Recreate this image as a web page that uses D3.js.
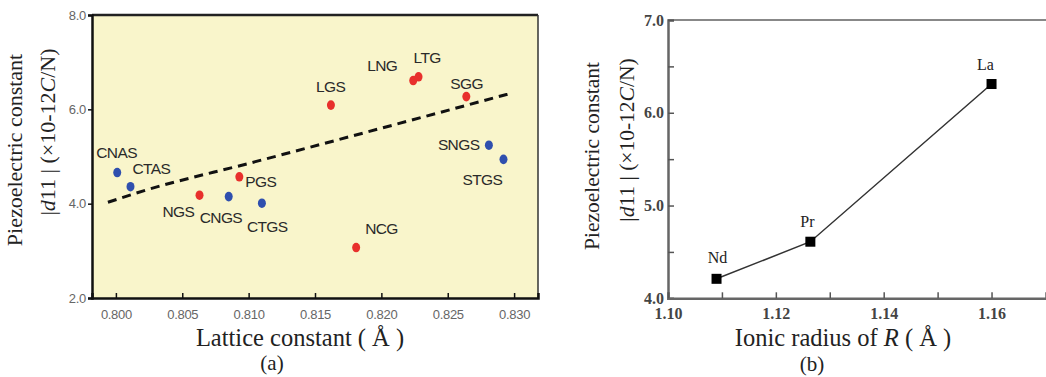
<!DOCTYPE html>
<html>
<head>
<meta charset="utf-8">
<script src="https://cdn.jsdelivr.net/npm/d3@7"></script>
<style>
  body { margin: 0; background: #fff; }
  svg { display: block; }
  .tickA text { font-family: "Liberation Sans", Arial, sans-serif; font-size: 13px; fill: #666; letter-spacing: -0.3px; }
  .tickB text { font-family: "Liberation Serif", "Times New Roman", serif; font-size: 16px; font-weight: bold; fill: #444; }
  .title { font-family: "Liberation Serif", "Times New Roman", serif; fill: #222; }
</style>
</head>
<body>
<script>
// ---- panel (a): lattice constant vs d11 ----
var names   = ["CNAS", "CTAS", "PGS", "NGS", "CNGS", "CTGS", "NCG", "LGS", "LNG", "LTG", "SGG", "SNGS", "STGS"];
var lattice = [0.8001, 0.8011, 0.8093, 0.8063, 0.8085, 0.8110, 0.8181, 0.8162, 0.8224, 0.8228, 0.8264, 0.8281, 0.8292];
var d11a    = [4.66, 4.36, 4.57, 4.18, 4.15, 4.01, 3.07, 6.09, 6.61, 6.69, 6.27, 5.24, 4.94];
var group   = ["b", "b", "r", "r", "b", "b", "r", "r", "r", "r", "r", "b", "b"];
// dashed trend
var trendX  = [0.7994, 0.8023, 0.8101, 0.8200, 0.8295];
var trendY  = [4.03, 4.29, 4.86, 5.60, 6.32];
var ticksA_y = [2.0, 4.0, 6.0, 8.0];
var ticksA_x = [0.800, 0.805, 0.810, 0.815, 0.820, 0.825, 0.830];

// ---- panel (b): ionic radius vs d11 ----
var ions   = ["Nd", "Pr", "La"];
var radius = [1.109, 1.1264, 1.160];
var d11b   = [4.21, 4.61, 6.31];
var ticksB_y = [4.0, 4.5, 5.0, 5.5, 6.0, 6.5, 7.0];
var ticksB_x = [1.10, 1.11, 1.12, 1.13, 1.14, 1.15, 1.16];

// label offsets in px (layout only)
var labelOff = {
  CNAS: [-21, -15], CTAS: [2, -13], PGS: [6, 10], NGS: [-37, 22], CNGS: [-29, 26],
  CTGS: [-15, 29], NCG: [9, -14], LGS: [-15, -13], LNG: [-46, -10], LTG: [-5, -14],
  SGG: [-16, -8], SNGS: [-51, 5], STGS: [-41, 26]
};
var ionOff = { Nd: [1, -16], Pr: [-3, -15], La: [-6, -14] };

var width = 1046, height = 377;
var svg = d3.select("body").append("svg")
  .attr("width", width)
  .attr("height", height);

/* ===== panel a ===== */
var xA = d3.scaleLinear().domain([0.7982, 0.8318]).range([92, 538]);
var yA = d3.scaleLinear().domain([2, 8]).range([298, 15]);

svg.append("rect")
  .attr("x", xA.range()[0]).attr("y", yA.range()[1])
  .attr("width", xA.range()[1] - xA.range()[0])
  .attr("height", yA.range()[0] - yA.range()[1])
  .attr("fill", "#f9f5cb");

var trend = d3.line()
  .x(function (d, i) { return xA(trendX[i]); })
  .y(function (d, i) { return yA(trendY[i]); })
  .curve(d3.curveMonotoneX);
svg.append("path")
  .attr("d", trend(trendX))
  .attr("fill", "none")
  .attr("stroke", "#111")
  .attr("stroke-width", 3)
  .attr("stroke-dasharray", "9,6");

var gA = svg.append("g");
gA.selectAll("ellipse")
  .data(names)
  .enter().append("ellipse")
  .attr("cx", function (d, i) { return xA(lattice[i]); })
  .attr("cy", function (d, i) { return yA(d11a[i]); })
  .attr("rx", 4)
  .attr("ry", 4.8)
  .attr("fill", function (d, i) { return group[i] == "r" ? "#e8302c" : "#2f4fae"; });

gA.selectAll("text")
  .data(names)
  .enter().append("text")
  .attr("x", function (d, i) { return xA(lattice[i]) + labelOff[d][0]; })
  .attr("y", function (d, i) { return yA(d11a[i]) + labelOff[d][1]; })
  .attr("font-family", "'Liberation Sans', Arial, sans-serif")
  .attr("font-size", "15.5px")
  .attr("letter-spacing", "-0.6px")
  .attr("fill", "#2a2a2a")
  .text(function (d) { return d; });

// frame
svg.append("line")
  .attr("x1", xA.range()[0]).attr("x2", xA.range()[1])
  .attr("y1", yA(8)).attr("y2", yA(8))
  .attr("stroke", "#222").attr("stroke-width", 2.5);
svg.append("line")
  .attr("x1", xA.range()[1]).attr("x2", xA.range()[1])
  .attr("y1", yA(8)).attr("y2", yA(2))
  .attr("stroke", "#333").attr("stroke-width", 1.5);

var axA_y = svg.append("g")
  .attr("class", "tickA")
  .attr("transform", "translate(" + xA.range()[0] + ",0)")
  .call(d3.axisLeft(yA).tickValues(ticksA_y).tickSize(4).tickPadding(2).tickFormat(d3.format(".1f")));
var axA_x = svg.append("g")
  .attr("class", "tickA")
  .attr("transform", "translate(0," + yA.range()[0] + ")")
  .call(d3.axisBottom(xA).tickValues(ticksA_x).tickSize(-5).tickPadding(12).tickFormat(d3.format(".3f")));
[axA_y, axA_x].forEach(function (ax) {
  ax.select(".domain").attr("stroke", "#111").attr("stroke-width", 2.5);
  ax.selectAll(".tick line").attr("stroke", "#111").attr("stroke-width", 1.5);
});

svg.append("text").attr("class", "title")
  .attr("transform", "translate(22,150) rotate(-90)")
  .attr("text-anchor", "middle").attr("font-size", "22px")
  .text("Piezoelectric constant");
var tA = svg.append("text").attr("class", "title")
  .attr("transform", "translate(55,132) rotate(-90)")
  .attr("text-anchor", "middle").attr("font-size", "22px");
tA.append("tspan").text("|");
tA.append("tspan").attr("font-style", "italic").text("d");
tA.append("tspan").text("11 | (×10-12");
tA.append("tspan").attr("font-style", "italic").text("C");
tA.append("tspan").text("/N)");

svg.append("text").attr("class", "title")
  .attr("x", 300).attr("y", 346)
  .attr("text-anchor", "middle").attr("font-size", "24.5px")
  .text("Lattice constant ( Å )");
svg.append("text").attr("class", "title")
  .attr("x", 272).attr("y", 370)
  .attr("text-anchor", "middle").attr("font-size", "21px")
  .text("(a)");

/* ===== panel b ===== */
var xB = d3.scaleLinear().domain([1.10, 1.1701]).range([668, 1046]);
var yB = d3.scaleLinear().domain([4, 7]).range([298.3, 20]);

svg.append("line")
  .attr("x1", xB.range()[0]).attr("x2", xB.range()[1])
  .attr("y1", yB(7)).attr("y2", yB(7))
  .attr("stroke", "#888").attr("stroke-width", 2);

var axB_y = svg.append("g")
  .attr("class", "tickB")
  .attr("transform", "translate(" + xB.range()[0] + ",0)")
  .call(d3.axisRight(yB).tickValues(ticksB_y).tickSize(6)
    .tickFormat(function (d) { return d % 1 == 0 ? d3.format(".1f")(d) : ""; }));
axB_y.selectAll(".tick text").attr("x", -4).attr("text-anchor", "end");
var axB_x = svg.append("g")
  .attr("class", "tickB")
  .attr("transform", "translate(0," + yB.range()[0] + ")")
  .call(d3.axisTop(xB).tickValues(ticksB_x).tickSize(6)
    .tickFormat(function (d, i) { return i % 2 == 0 ? d3.format(".2f")(d) : ""; }));
axB_x.selectAll(".tick text").attr("y", 21).attr("dy", "0");
[axB_y, axB_x].forEach(function (ax) {
  ax.select(".domain").attr("stroke", "#666").attr("stroke-width", 2.5);
  ax.selectAll(".tick line").attr("stroke", "#555").attr("stroke-width", 1.5);
});

var line = d3.line()
  .x(function (d, i) { return xB(radius[i]); })
  .y(function (d, i) { return yB(d11b[i]); });
svg.append("path")
  .attr("d", line(ions))
  .attr("fill", "none")
  .attr("stroke", "#333")
  .attr("stroke-width", 1.5);

var gB = svg.append("g");
gB.selectAll("rect")
  .data(ions)
  .enter().append("rect")
  .attr("x", function (d, i) { return xB(radius[i]) - 5; })
  .attr("y", function (d, i) { return yB(d11b[i]) - 5; })
  .attr("width", 10).attr("height", 10)
  .attr("fill", "#000");
gB.selectAll("text")
  .data(ions)
  .enter().append("text")
  .attr("class", "title")
  .attr("x", function (d, i) { return xB(radius[i]) + ionOff[d][0]; })
  .attr("y", function (d, i) { return yB(d11b[i]) + ionOff[d][1]; })
  .attr("text-anchor", "middle")
  .attr("font-size", "16px")
  .attr("fill", "#333")
  .text(function (d) { return d; });

svg.append("text").attr("class", "title")
  .attr("transform", "translate(599,156) rotate(-90)")
  .attr("text-anchor", "middle").attr("font-size", "21.5px")
  .text("Piezoelectric constant");
var tB = svg.append("text").attr("class", "title")
  .attr("transform", "translate(634,140) rotate(-90)")
  .attr("text-anchor", "middle").attr("font-size", "21.5px");
tB.append("tspan").text("|");
tB.append("tspan").attr("font-style", "italic").text("d");
tB.append("tspan").text("11 | (×10-12");
tB.append("tspan").attr("font-style", "italic").text("C");
tB.append("tspan").text("/N)");

var xt = svg.append("text").attr("class", "title")
  .attr("x", 843).attr("y", 346)
  .attr("text-anchor", "middle").attr("font-size", "24.5px");
xt.append("tspan").text("Ionic radius of ");
xt.append("tspan").attr("font-style", "italic").text("R");
xt.append("tspan").text(" ( Å )");
svg.append("text").attr("class", "title")
  .attr("x", 812).attr("y", 371)
  .attr("text-anchor", "middle").attr("font-size", "21px")
  .text("(b)");
</script>
</body>
</html>
